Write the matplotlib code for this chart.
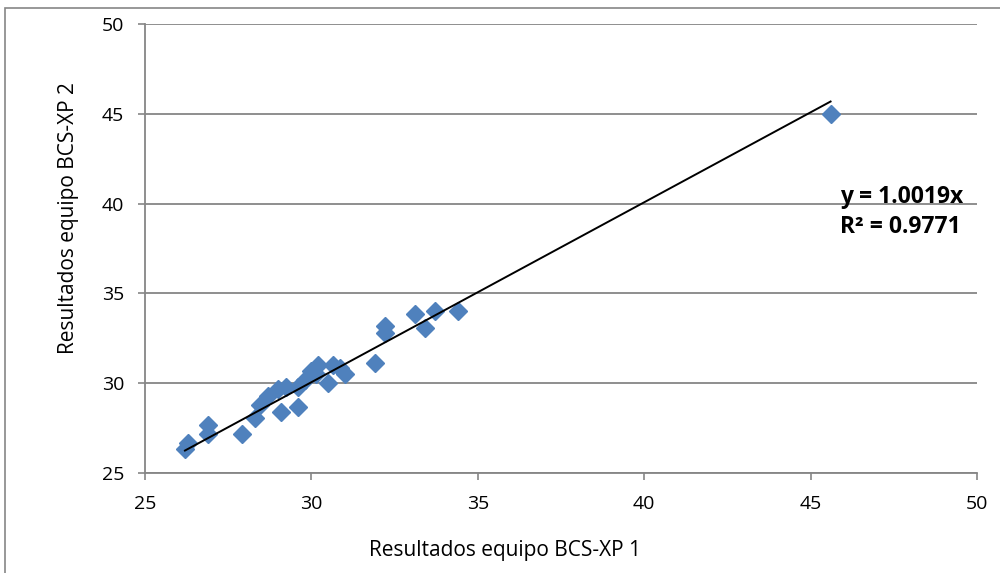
import matplotlib.pyplot as plt
from matplotlib.patches import Rectangle

# Resultados de los dos equipos
equipo1 = [26.2, 26.3, 26.9, 26.9, 27.9, 28.3, 28.45, 28.7, 29.0, 29.1,
           29.25, 29.6, 29.6, 29.8, 30.0, 30.2, 30.15, 30.5, 30.65, 30.85,
           31.0, 31.9, 32.2, 32.2, 33.1, 33.4, 33.7, 34.4, 45.6]
equipo2 = [26.35, 26.65, 27.65, 27.2, 27.2, 28.05, 28.8, 29.3, 29.7, 28.4,
           29.8, 28.7, 29.8, 30.2, 30.7, 31.0, 30.5, 30.0, 31.0, 30.85,
           30.5, 31.1, 33.2, 32.8, 33.85, 33.1, 34.0, 34.0, 45.0]

pendiente = 1.0019
r2 = 0.9771
ticks = [25, 30, 35, 40, 45, 50]

plt.rcParams['font.family'] = ['Open Sans', 'DejaVu Sans']

fig = plt.figure(figsize=(10, 5.73), dpi=100)
ax = fig.add_axes([0.145, 0.1745, 0.832, 0.7835])

gris = '#868686'

# marco del grafico
fig.patches.append(Rectangle((0.005, -0.1), 1.2, 1.086, transform=fig.transFigure,
                             fill=False, edgecolor=gris, linewidth=1.2))

ax.set_xlim(25, 50)
ax.set_ylim(25, 50)
ax.set_xticks(ticks)
ax.set_yticks(ticks)
ax.grid(axis='y', color=gris, linewidth=1.3)
ax.set_axisbelow(True)

for s in ['top', 'right']:
    ax.spines[s].set_visible(False)
for s in ['left', 'bottom']:
    ax.spines[s].set_color(gris)
    ax.spines[s].set_linewidth(1.3)
ax.tick_params(colors=gris, labelcolor='black', labelsize=14, length=5, width=1.2)
ax.tick_params(axis='x', pad=11)
ax.tick_params(axis='y', pad=10)

ax.plot(equipo1, equipo2, linestyle='none', marker='D', markersize=9.5,
        color='#4F81BD', zorder=3)

xmin, xmax = min(equipo1), max(equipo1)
ax.plot([xmin, xmax], [pendiente * xmin, pendiente * xmax], color='black',
        linewidth=1.4, zorder=4)

ax.text(45.88, 40.03, f'y = {pendiente}x', fontsize=16.5, fontweight='bold',
        va='baseline')
ax.text(45.88, 38.36, f'R² = {r2}', fontsize=16.5, fontweight='bold',
        va='baseline')

ax.set_xlabel('Resultados equipo BCS-XP 1', fontsize=15)
ax.set_ylabel('Resultados equipo BCS-XP 2', fontsize=15)
ax.xaxis.label.set_va('center')
ax.yaxis.label.set_va('center')
ax.xaxis.set_label_coords(0.4327, -0.1715)
ax.yaxis.set_label_coords(-0.0925, 0.568)

fig.savefig('out.png', dpi=100)
